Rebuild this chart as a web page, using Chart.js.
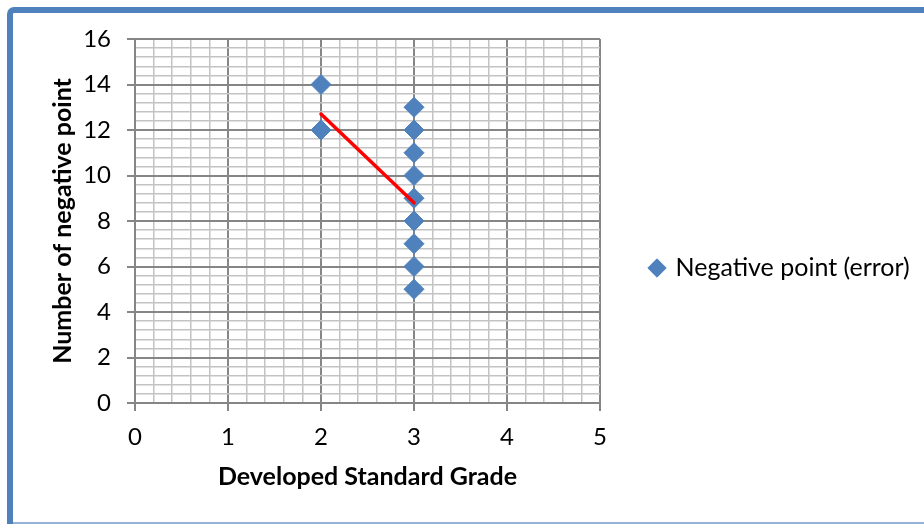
<!DOCTYPE html>
<html>
<head>
<meta charset="utf-8">
<script src="https://cdn.jsdelivr.net/npm/chart.js@4.4.1/dist/chart.umd.min.js"></script>
<style>
  html, body { margin: 0; padding: 0; background: #ffffff; }
  #wrap { position: relative; width: 924px; height: 524px; overflow: hidden; background: #ffffff; }
  #c { position: absolute; left: 0; top: 0; }
  #frame {
    position: absolute; left: 7px; top: 7px; width: 1000px; height: 600px;
    box-sizing: border-box; border-left: 6px solid #4f81bd; border-top: 6px solid #4f81bd;
    border-top-left-radius: 7px; pointer-events: none;
  }
  #base { position: absolute; left: 13px; top: 522px; width: 911px; height: 2px; background: #95b3d7; }
</style>
</head>
<body>
<div id="wrap">
  <canvas id="c" width="924" height="524"></canvas>
  <div id="frame"></div>
  <div id="base"></div>
</div>
<script>
// Observations: grade on x, number of negative points on y
const gradeX = [2, 2, 3, 3, 3, 3, 3, 3, 3, 3, 3];
const negativeY = [14, 12, 13, 12, 11, 10, 9, 8, 7, 6, 5];

// Hand-drawn trend segment
const trendX = [2, 3];
const trendY = [12.7, 8.8];

// Axis tick labels
const xTickLabels = ['0', '1', '2', '3', '4', '5'];
const yTickLabels = ['0', '2', '4', '6', '8', '10', '12', '14', '16'];

const seriesName = 'Negative point (error)';
const xTitle = 'Developed Standard Grade';
const yTitle = 'Number of negative point';

const MAJOR = '#868686';
const MINOR = '#c3c3c3';
const BLUE = '#4f81bd';
const FONT = 'Lato';

const near = (v, n) => Math.abs(v - Math.round(v / n) * n) < 1e-6;

const pointsData = gradeX.map((x, i) => ({ x: x, y: negativeY[i] }));
const trendData = trendX.map((x, i) => ({ x: x, y: trendY[i] }));

Chart.defaults.font.family = FONT;
Chart.defaults.color = '#000000';

const LEGEND_WIDTH = 324;

const fixedLegend = {
  id: 'fixedLegend',
  beforeUpdate(chart) {
    const lg = chart.legend;
    if (lg && !lg._fixedWidth) {
      const baseFit = lg.fit.bind(lg);
      lg.fit = function () { baseFit(); this.width = LEGEND_WIDTH; };
      lg._fixedWidth = true;
    }
  }
};

new Chart(document.getElementById('c'), {
  type: 'scatter',
  data: {
    datasets: [
      {
        type: 'line',
        label: 'trend',
        data: trendData,
        borderColor: '#ff0000',
        borderWidth: 3.5,
        borderCapStyle: 'round',
        pointRadius: 0,
        fill: false,
        order: 0
      },
      {
        label: seriesName,
        data: pointsData,
        pointStyle: 'rectRot',
        pointRadius: 10,
        pointHoverRadius: 10,
        backgroundColor: BLUE,
        borderColor: BLUE,
        borderWidth: 1,
        order: 1
      }
    ]
  },
  options: {
    responsive: false,
    animation: false,
    events: [],
    layout: { padding: { left: 20, top: 39, right: 0, bottom: 27 } },
    plugins: {
      tooltip: { enabled: false },
      legend: {
        position: 'right',
        align: 'center',
        labels: {
          filter: (item) => item.text === seriesName,
          usePointStyle: true,
          boxWidth: 12,
          boxHeight: 13,
          padding: 51,
          color: '#000000',
          font: { family: FONT, size: 25 }
        }
      }
    },
    scales: {
      x: {
        type: 'linear',
        min: 0,
        max: 5,
        afterFit: (s) => { s.height = 94; },
        ticks: {
          stepSize: 0.2,
          autoSkip: false,
          maxRotation: 0,
          minRotation: 0,
          padding: 12,
          color: '#000000',
          font: { family: FONT, size: 24 },
          callback: (v) => near(v, 1) ? xTickLabels[Math.round(v)] : ''
        },
        grid: {
          color: (ctx) => near(ctx.tick.value, 1) ? MAJOR : MINOR,
          lineWidth: (ctx) => near(ctx.tick.value, 1) ? 2 : 1.5,
          tickColor: (ctx) => near(ctx.tick.value, 1) ? MAJOR : 'rgba(0,0,0,0)',
          tickWidth: 2,
          tickLength: 8
        },
        border: { color: MAJOR, width: 2 },
        title: {
          display: true,
          text: xTitle,
          color: '#000000',
          font: { family: FONT, size: 25, weight: 'bold' },
          padding: { top: 0, bottom: 5 }
        }
      },
      y: {
        type: 'linear',
        min: 0,
        max: 16,
        afterFit: (s) => { s.width = 115; },
        ticks: {
          stepSize: 0.4,
          autoSkip: false,
          padding: 16,
          color: '#000000',
          font: { family: FONT, size: 24 },
          callback: (v) => near(v, 2) ? yTickLabels[Math.round(v / 2)] : ''
        },
        grid: {
          color: (ctx) => near(ctx.tick.value, 2) ? MAJOR : MINOR,
          lineWidth: (ctx) => near(ctx.tick.value, 2) ? 2 : 1.5,
          tickColor: (ctx) => near(ctx.tick.value, 2) ? MAJOR : 'rgba(0,0,0,0)',
          tickWidth: 2,
          tickLength: 8
        },
        border: { color: MAJOR, width: 2 },
        title: {
          display: true,
          text: yTitle,
          color: '#000000',
          font: { family: FONT, size: 25, weight: 'bold' },
          padding: { top: 28, bottom: 0 }
        }
      }
    }
  },
  plugins: [fixedLegend]
});
</script>
</body>
</html>
